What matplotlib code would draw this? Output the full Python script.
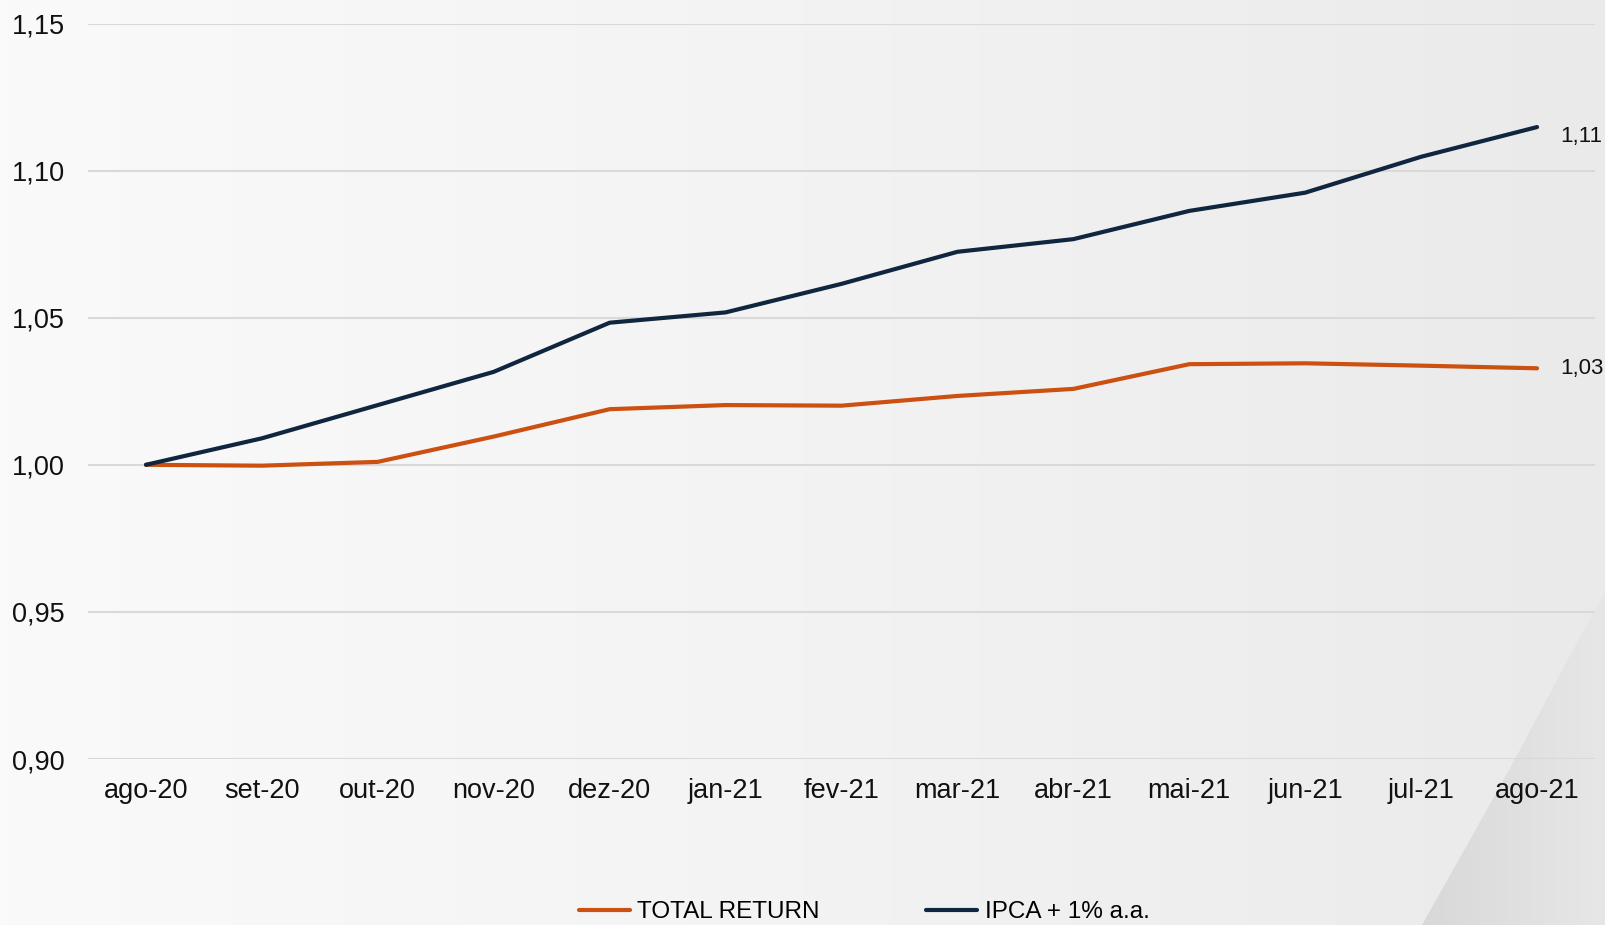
import numpy as np
import matplotlib
matplotlib.use("Agg")
import matplotlib.pyplot as plt
from matplotlib.patches import Polygon

plt.rcParams['font.family'] = ['Liberation Sans', 'DejaVu Sans']

meses = ['ago-20', 'set-20', 'out-20', 'nov-20', 'dez-20', 'jan-21', 'fev-21',
         'mar-21', 'abr-21', 'mai-21', 'jun-21', 'jul-21', 'ago-21']
total_return = [1.000, 0.9997, 1.001, 1.0096, 1.0189, 1.0203, 1.0201,
                1.0234, 1.0258, 1.0342, 1.0345, 1.0337, 1.0328]
ipca = [1.000, 1.009, 1.0203, 1.0316, 1.0483, 1.0518, 1.0615,
        1.0724, 1.0767, 1.0863, 1.0925, 1.1047, 1.1148]
yticks = [0.90, 0.95, 1.00, 1.05, 1.10, 1.15]

cor_laranja = '#CC5011'
cor_azul = '#10263F'

W, H = 1606, 925
fig = plt.figure(figsize=(W / 100, H / 100), dpi=100)

# fundo com degradê leve
bg = fig.add_axes([0, 0, 1, 1], zorder=-2)
grad = np.linspace(0, 1, 256).reshape(1, -1)
bg.imshow(grad, cmap=matplotlib.colors.LinearSegmentedColormap.from_list(
    'bg', ['#fafafa', '#f3f3f4', '#eaeaeb']), aspect='auto',
    extent=[0, W, 0, H], vmin=0, vmax=1)
# cunha cinza no canto inferior direito (borda levemente curva)
cunha = Polygon([[1606, H - 590], [1565, H - 665], [1520, H - 750],
                 [1470, H - 840], [1422, 0], [1606, 0]], closed=True,
                facecolor='none', edgecolor='none')
bg.add_patch(cunha)
grad2 = np.linspace(0, 1, 256).reshape(1, -1)
im = bg.imshow(grad2, cmap=matplotlib.colors.LinearSegmentedColormap.from_list(
    'cunha', ['#d8d8d9', '#e7e7e8']), aspect='auto',
    extent=[1420, W, 0, H], vmin=0, vmax=1)
im.set_clip_path(cunha)
bg.set_xlim(0, W)
bg.set_ylim(0, H)
bg.axis('off')

ax = fig.add_axes([88 / W, 1 - 759 / H, (1595 - 88) / W, (759 - 23.5) / H])
ax.patch.set_alpha(0)

x = np.arange(len(meses))
ax.plot(x, total_return, color=cor_laranja, lw=3.0, label='TOTAL RETURN',
        solid_capstyle='round', zorder=3)
ax.plot(x, ipca, color=cor_azul, lw=3.0, label='IPCA + 1% a.a.',
        solid_capstyle='round', zorder=4)

ax.annotate(f'{ipca[-1]:.2f}'.replace('.', ','), (x[-1], ipca[-1]),
            xytext=(17, -7), textcoords='offset points', va='center',
            ha='left', fontsize=16, color='#111111', annotation_clip=False)
ax.annotate(f'{total_return[-1]:.2f}'.replace('.', ','),
            (x[-1], total_return[-1]), xytext=(17, 0),
            textcoords='offset points', va='center', ha='left', fontsize=16,
            color='#111111', annotation_clip=False)

ax.set_xlim(-0.5, len(meses) - 0.5)
ax.set_ylim(0.90, 1.15)
ax.set_yticks(yticks)
ax.set_yticklabels([f'{v:.2f}'.replace('.', ',') for v in yticks])
ax.set_xticks(x)
ax.set_xticklabels(meses)
ax.tick_params(axis='both', length=0, labelsize=19.5, colors='#111111')
ax.tick_params(axis='y', pad=16.5)
ax.tick_params(axis='x', pad=13.5)
ax.grid(axis='y', color='#d9d9d9', lw=1.5)
ax.set_axisbelow(True)
for s in ax.spines.values():
    s.set_visible(False)

fig.legend(loc='center', bbox_to_anchor=(864 / W, 1 - 912 / H), ncol=2,
           frameon=False, fontsize=17.5, handlelength=2.1, handletextpad=0.3,
           columnspacing=4.4)

plt.savefig('out.png', dpi=100)
